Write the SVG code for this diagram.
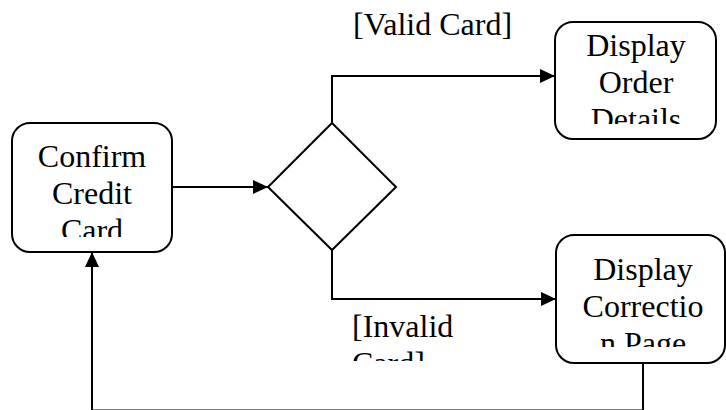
<svg xmlns="http://www.w3.org/2000/svg" width="726" height="410" viewBox="0 0 726 410">
<style>
.box{fill:#fff;stroke:#000;stroke-width:2}
.t{font-family:"Liberation Serif","Times New Roman",serif;font-size:32px;fill:#000;text-anchor:middle}
.tl{font-family:"Liberation Serif","Times New Roman",serif;font-size:32px;fill:#000}
.c{fill:none;stroke:#000;stroke-width:2}
</style>
<defs>
<marker id="arr" viewBox="0 0 15 14" refX="15" refY="7" markerWidth="15" markerHeight="14" markerUnits="userSpaceOnUse" orient="auto">
<path d="M0,0 L15,7 L0,14 Z" fill="#000"/>
</marker>
<clipPath id="c1"><rect x="12" y="123" width="160" height="114"/></clipPath>
<clipPath id="c2"><rect x="555" y="22" width="161" height="102"/></clipPath>
<clipPath id="c3"><rect x="556" y="235" width="170" height="112"/></clipPath>
<clipPath id="c4"><rect x="340" y="300" width="160" height="61"/></clipPath>
</defs>
<rect width="726" height="410" fill="#fff"/>
<g id="connectors">
<path class="c" d="M172,187 H268" marker-end="url(#arr)"/>
<path class="c" d="M332,123 V76 H555" marker-end="url(#arr)"/>
<path class="c" d="M332,250 V299 H556" marker-end="url(#arr)"/>
<path class="c" d="M643,363 V410.4 H92 V252" marker-end="url(#arr)" stroke="#000"/>
</g>
<g id="confirm">
<rect class="box" x="12" y="123" width="160" height="129" rx="18"/>
<g clip-path="url(#c1)">
<text class="t" x="92" y="167">Confirm</text>
<text class="t" x="92" y="204">Credit</text>
<text class="t" x="92" y="241">Card</text>
</g>
</g>
<g id="decision">
<polygon points="332,123 396,187 332,250 268,187" fill="#fff" stroke="#000" stroke-width="2"/>
</g>
<g id="order">
<rect class="box" x="555" y="22" width="161" height="117" rx="18"/>
<g clip-path="url(#c2)">
<text class="t" x="636" y="56">Display</text>
<text class="t" x="636" y="93">Order</text>
<text class="t" x="636" y="130">Details</text>
</g>
</g>
<g id="correction">
<rect class="box" x="556" y="235" width="169" height="128" rx="18"/>
<g clip-path="url(#c3)">
<text class="t" x="643" y="280">Display</text>
<text class="t" x="643" y="317">Correctio</text>
<text class="t" x="643" y="354">n Page</text>
</g>
</g>
<g id="labels">
<text class="tl" x="353" y="35">[Valid Card]</text>
<g clip-path="url(#c4)">
<text class="tl" x="352" y="337">[Invalid</text>
<text class="tl" x="352" y="374">Card]</text>
</g>
</g>
</svg>
